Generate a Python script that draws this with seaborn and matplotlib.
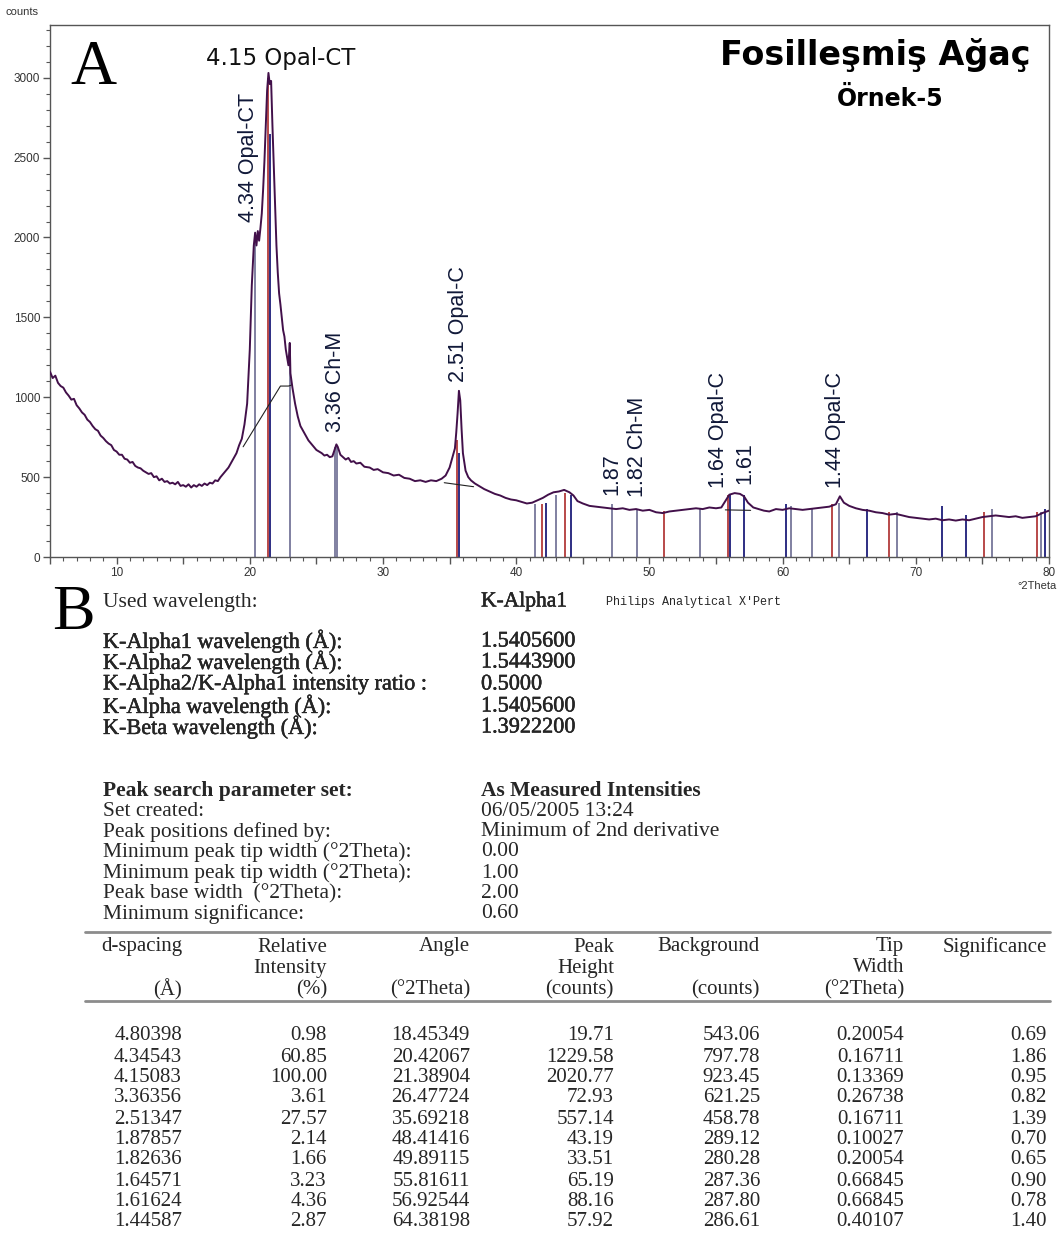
import numpy as np
import pandas as pd
import matplotlib
matplotlib.use('Agg')
import matplotlib.pyplot as plt
import matplotlib.patheffects as pe
from matplotlib.ticker import MultipleLocator, FuncFormatter
import seaborn as sns

# ---------------- data: panel A (XRD pattern) ----------------
angle_deg = [5.0, 5.2, 5.4, 5.6, 5.8, 6.0, 6.2, 6.4, 6.6, 6.8, 7.0, 7.2, 7.4, 7.6, 7.8,
             8.0, 8.2, 8.4, 8.6, 8.8, 9.0, 9.2, 9.4, 9.6, 9.8, 10.0, 10.2, 10.4, 10.6, 10.8,
             11.0, 11.2, 11.4, 11.6, 11.8, 12.0, 12.2, 12.4, 12.6, 12.8, 13.0, 13.2, 13.4, 13.6,
             13.8, 14.0, 14.2, 14.4, 14.6, 14.8, 15.0, 15.2, 15.4, 15.6, 15.8, 16.0, 16.2, 16.4,
             16.6, 16.8, 17.0, 17.2, 17.4, 17.6, 17.8, 18.0, 18.2, 18.4, 18.6, 18.8, 19.0, 19.2,
             19.4, 19.6, 19.8, 20.0, 20.15, 20.3, 20.4, 20.5, 20.6, 20.7, 20.8, 20.9, 21.0, 21.1,
             21.2, 21.3, 21.4, 21.5, 21.6, 21.7, 21.8, 21.9, 22.0, 22.1, 22.2, 22.3, 22.4, 22.5,
             22.6, 22.7, 22.8, 22.9, 23.0, 23.05, 23.2, 23.4, 23.6, 23.8, 24.0, 24.2, 24.4, 24.6,
             24.8, 25.0, 25.2, 25.4, 25.6, 25.8, 26.0, 26.2, 26.4, 26.5, 26.6, 26.8, 27.0, 27.2,
             27.4, 27.6, 27.8, 28.0, 28.3, 28.6, 29.0, 29.3, 29.6, 30.0, 30.4, 30.8, 31.2, 31.6,
             32.0, 32.4, 32.8, 33.2, 33.6, 34.0, 34.4, 34.7, 35.0, 35.2, 35.4, 35.5, 35.6, 35.7,
             35.8, 35.9, 36.0, 36.2, 36.4, 36.6, 36.9, 37.2, 37.6, 38.0, 38.4, 38.8, 39.2, 39.6,
             40.0, 40.4, 40.8, 41.2, 41.6, 42.0, 42.4, 42.8, 43.2, 43.6, 44.0, 44.3, 44.6, 45.0,
             45.5, 46.0, 46.5, 47.0, 47.5, 48.0, 48.5, 49.0, 49.5, 50.0, 50.5, 51.0, 51.5, 52.0,
             52.5, 53.0, 53.5, 54.0, 54.5, 55.0, 55.4, 55.7, 56.0, 56.4, 56.8, 57.1, 57.4, 57.8,
             58.2, 58.6, 59.0, 59.5, 60.0, 60.5, 61.0, 61.5, 62.0, 62.5, 63.0, 63.5, 64.0, 64.3,
             64.6, 65.0, 65.5, 66.0, 66.5, 67.0, 67.5, 68.0, 68.5, 69.0, 69.5, 70.0, 70.5, 71.0,
             71.5, 72.0, 72.5, 73.0, 73.5, 74.0, 74.5, 75.0, 75.5, 76.0, 76.5, 77.0, 77.5, 78.0,
             78.5, 79.0, 79.5, 80.0]
counts = [1160, 1120, 1135, 1090, 1070, 1060, 1030, 1010, 985, 990, 950, 930, 905, 890, 860,
          845, 820, 800, 790, 760, 745, 725, 710, 700, 670, 660, 640, 640, 615, 610,
          590, 595, 570, 560, 555, 540, 530, 520, 525, 500, 505, 480, 490, 470,
          475, 460, 465, 455, 470, 445, 450, 440, 455, 435, 450, 440, 455, 445,
          460, 450, 465, 460, 480, 475, 500, 520, 540, 560, 590, 620, 650, 700,
          740, 830, 960, 1300, 1700, 1950, 2030, 1950, 2040, 1980, 2060, 2150, 2300, 2480,
          2700, 2920, 3030, 2960, 2980, 2700, 2450, 2200, 1950, 1780, 1650, 1580, 1500, 1420,
          1380, 1300, 1250, 1200, 1340, 1150, 1060, 960, 880, 820, 790, 760, 730, 710,
          690, 670, 660, 650, 635, 640, 625, 630, 680, 705, 690, 640, 625, 610,
          620, 595, 600, 585, 590, 565, 560, 545, 550, 530, 525, 510, 515, 495,
          490, 475, 480, 470, 480, 475, 490, 510, 560, 620, 680, 780, 900, 1040,
          980, 800, 650, 540, 500, 480, 460, 445, 425, 410, 395, 385, 370, 360,
          355, 345, 335, 340, 355, 370, 390, 405, 410, 420, 405, 385, 350, 335,
          320, 315, 310, 305, 300, 305, 295, 300, 290, 295, 280, 275, 285, 290,
          295, 300, 305, 300, 310, 305, 310, 350, 390, 400, 395, 380, 340, 310,
          300, 290, 285, 300, 295, 305, 300, 295, 300, 305, 310, 315, 330, 380,
          340, 320, 305, 295, 290, 280, 275, 265, 270, 260, 250, 245, 240, 235,
          240, 230, 235, 228, 235, 230, 240, 250, 255, 260, 255, 250, 255, 245,
          250, 255, 275, 290]

# background (baseline) segments
bg1_angle = [19.5, 22.3, 22.9, 23.1]
bg1_counts = [690, 1070, 1070, 1075]
bg2_angle = [34.6, 36.8]
bg2_counts = [465, 440]
bg3_angle = [55.7, 57.6]
bg3_counts = [295, 292]

# reference sticks
stick_gray_pos = [20.42, 23.05, 26.42, 26.55, 41.4, 43.0, 47.2, 49.1, 53.8, 60.6, 62.2, 64.2, 68.6, 75.7, 79.4]
stick_gray_h = [1990, 1340, 690, 690, 330, 390, 330, 300, 300, 320, 300, 340, 280, 300, 280]
stick_red_pos = [21.39, 35.55, 41.9, 43.7, 51.1, 55.9, 63.7, 68.0, 75.1, 79.1]
stick_red_h = [3000, 730, 330, 400, 290, 390, 330, 280, 280, 280]
stick_navy_pos = [21.55, 35.69, 42.2, 44.1, 56.05, 57.1, 60.25, 66.3, 72.0, 73.8, 79.7]
stick_navy_h = [2650, 650, 340, 390, 390, 390, 330, 300, 320, 260, 300]

peak_labels = ["4.34 Opal-CT", "3.36 Ch-M", "2.51 Opal-C", "1.87", "1.82 Ch-M",
               "1.64 Opal-C", "1.61", "1.44 Opal-C"]
peak_label_x = [19.9, 26.4, 35.65, 47.2, 49.1, 55.2, 57.2, 64.0]
peak_label_y = [2094, 781, 1094, 388, 375, 431, 456, 431]

# ---------------- data: panel B (text / table) ----------------
instr_labels = ["K-Alpha1 wavelength (Å):", "K-Alpha2 wavelength (Å):",
                "K-Alpha2/K-Alpha1 intensity ratio :", "K-Alpha wavelength (Å):",
                "K-Beta wavelength (Å):"]
instr_values = ["1.5405600", "1.5443900", "0.5000", "1.5405600", "1.3922200"]
param_labels = ["Set created:", "Peak positions defined by:",
                "Minimum peak tip width (°2Theta):", "Minimum peak tip width (°2Theta):",
                "Peak base width  (°2Theta):", "Minimum significance:"]
param_values = ["06/05/2005 13:24", "Minimum of 2nd derivative", "0.00", "1.00", "2.00", "0.60"]

header_rows = [["d-spacing", "", "(Å)"], ["Relative", "Intensity", "(%)"],
               ["Angle", "", "(°2Theta)"], ["Peak", "Height", "(counts)"],
               ["Background", "", "(counts)"], ["Tip", "Width", "(°2Theta)"],
               ["Significance", "", ""]]
d_spacing = ["4.80398", "4.34543", "4.15083", "3.36356", "2.51347", "1.87857", "1.82636", "1.64571", "1.61624", "1.44587"]
rel_int = ["0.98", "60.85", "100.00", "3.61", "27.57", "2.14", "1.66", "3.23", "4.36", "2.87"]
angle_col = ["18.45349", "20.42067", "21.38904", "26.47724", "35.69218", "48.41416", "49.89115", "55.81611", "56.92544", "64.38198"]
peak_height = ["19.71", "1229.58", "2020.77", "72.93", "557.14", "43.19", "33.51", "65.19", "88.16", "57.92"]
background = ["543.06", "797.78", "923.45", "621.25", "458.78", "289.12", "280.28", "287.36", "287.80", "286.61"]
tip_width = ["0.20054", "0.16711", "0.13369", "0.26738", "0.16711", "0.10027", "0.20054", "0.66845", "0.66845", "0.40107"]
significance = ["0.69", "1.86", "0.95", "0.82", "1.39", "0.70", "0.65", "0.90", "0.78", "1.40"]

# ---------------- style ----------------
sns.set_style('ticks')
plt.rcParams['font.family'] = ['Liberation Sans', 'DejaVu Sans']

W, H = 1059, 1242
fig = plt.figure(figsize=(W / 100, H / 100), dpi=100)
fig.patch.set_facecolor('white')

ax = fig.add_axes([50 / W, 1 - 557 / H, 999 / W, 532 / H])
df = pd.DataFrame({'angle': angle_deg, 'counts': counts})

ax.vlines(stick_gray_pos, 0, stick_gray_h, colors='#76769a', lw=1.3, zorder=2)
ax.vlines(stick_red_pos, 0, stick_red_h, colors='#b23a3a', lw=1.3, zorder=2)
ax.vlines(stick_navy_pos, 0, stick_navy_h, colors='#1c1c7a', lw=1.3, zorder=2)

sns.lineplot(data=df, x='angle', y='counts', ax=ax, color='#42104a', lw=1.4,
             sort=False, estimator=None, zorder=3)
for bx, by in [(bg1_angle, bg1_counts), (bg2_angle, bg2_counts), (bg3_angle, bg3_counts)]:
    sns.lineplot(x=bx, y=by, ax=ax, color='#222222', lw=0.8, sort=False, estimator=None, zorder=4)

ax.set_xlim(5, 80)
ax.set_ylim(0, 3330)
ax.set_xlabel('')
ax.set_ylabel('')
ax.yaxis.set_major_locator(MultipleLocator(500))
ax.yaxis.set_minor_locator(MultipleLocator(100))
ax.xaxis.set_major_locator(MultipleLocator(5))
ax.xaxis.set_minor_locator(MultipleLocator(1))
ax.xaxis.set_major_formatter(FuncFormatter(lambda v, p: f"{int(v)}" if int(round(v)) % 10 == 0 else ""))
ax.tick_params(which='major', length=5, width=1, color='#555555', labelsize=8.5,
               labelcolor='#333333', direction='out', pad=2)
ax.tick_params(which='minor', length=3, width=0.8, color='#555555', direction='out')
for s in ax.spines.values():
    s.set_color('#555555')
    s.set_linewidth(1.0)

txt_col = '#101838'
ax.text(22.3, 3119, "4.15 Opal-CT", ha='center', va='center', fontsize=16.5,
        family=['DejaVu Sans'], color='#111111')
for lab, lx, ly in zip(peak_labels, peak_label_x, peak_label_y):
    ax.text(lx, ly, lab, rotation=90, ha='center', va='bottom', fontsize=15.5,
            color=txt_col)

# ---------------- overlay in pixel coords ----------------
ov = fig.add_axes([0, 0, 1, 1], zorder=5)
ov.set_xlim(0, W)
ov.set_ylim(H, 0)
ov.axis('off')
ov.patch.set_alpha(0)

ov.text(5, 12, "counts", ha='left', va='center', fontsize=8, color='#333333')
ov.text(1057, 586, "°2Theta", ha='right', va='center', fontsize=8, color='#333333')
ov.text(70, 69, "A", ha='left', va='center', fontsize=46, family=['Liberation Serif'], color='black')
ov.text(1031, 55, "Fosilleşmiş Ağaç", ha='right', va='center', fontsize=24,
        family=['DejaVu Sans'], fontweight='bold', color='black')
ov.text(943, 99, "Örnek-5", ha='right', va='center', fontsize=17,
        family=['DejaVu Sans'], fontweight='bold', color='black')

serif = ['Liberation Serif', 'DejaVu Serif']
ov.text(52, 614, "B", ha='left', va='center', fontsize=46, family=serif, color='black')
fs_b = 15.5
medium = [pe.withStroke(linewidth=0.3, foreground='black')]
ov.text(103, 602, "Used wavelength:", ha='left', va='center', fontsize=fs_b, family=serif)
ov.text(481, 602, "K-Alpha1", ha='left', va='center', fontsize=fs_b, family=serif, path_effects=medium)
ov.text(606, 602, "Philips Analytical X'Pert", ha='left', va='center', fontsize=8.5,
        family=['Liberation Mono', 'DejaVu Sans Mono'])
rows1 = [642, 663, 685, 707, 728]
for lab, val, y in zip(instr_labels, instr_values, rows1):
    ov.text(103, y, lab, ha='left', va='center', fontsize=16, family=serif, path_effects=medium)
    ov.text(481, y, val, ha='left', va='center', fontsize=16, family=serif, path_effects=medium)

ov.text(103, 791, "Peak search parameter set:", ha='left', va='center', fontsize=fs_b,
        family=serif, fontweight='bold')
ov.text(481, 791, "As Measured Intensities", ha='left', va='center', fontsize=fs_b,
        family=serif, fontweight='bold')
rows2 = [811, 832, 852, 873, 894, 914]
for lab, val, y in zip(param_labels, param_values, rows2):
    ov.text(103, y, lab, ha='left', va='center', fontsize=fs_b, family=serif)
    ov.text(481, y, val, ha='left', va='center', fontsize=fs_b, family=serif)

# table
ov.plot([85, 1050], [932, 932], color='#8c8c8c', lw=2)
ov.plot([85, 1050], [1001, 1001], color='#8c8c8c', lw=2)
fs_t = 15
col_right = [182, 327, 470, 614, 760, 904, 1047]
head_y = [947, 968, 990]
for hx, hr in zip(col_right, header_rows):
    for hy, t in zip(head_y, hr):
        if t:
            ov.text(hx, hy, t, ha='right', va='center', fontsize=fs_t, family=serif)
row_y = [1036, 1057, 1078, 1098, 1119, 1140, 1160, 1181, 1201, 1222]
cols = [d_spacing, rel_int, angle_col, peak_height, background, tip_width, significance]
for cx, col in zip(col_right, cols):
    for ry, v in zip(row_y, col):
        ov.text(cx, ry, v, ha='right', va='center', fontsize=fs_t, family=serif)

fig.savefig('out.png', dpi=100, facecolor='white')
